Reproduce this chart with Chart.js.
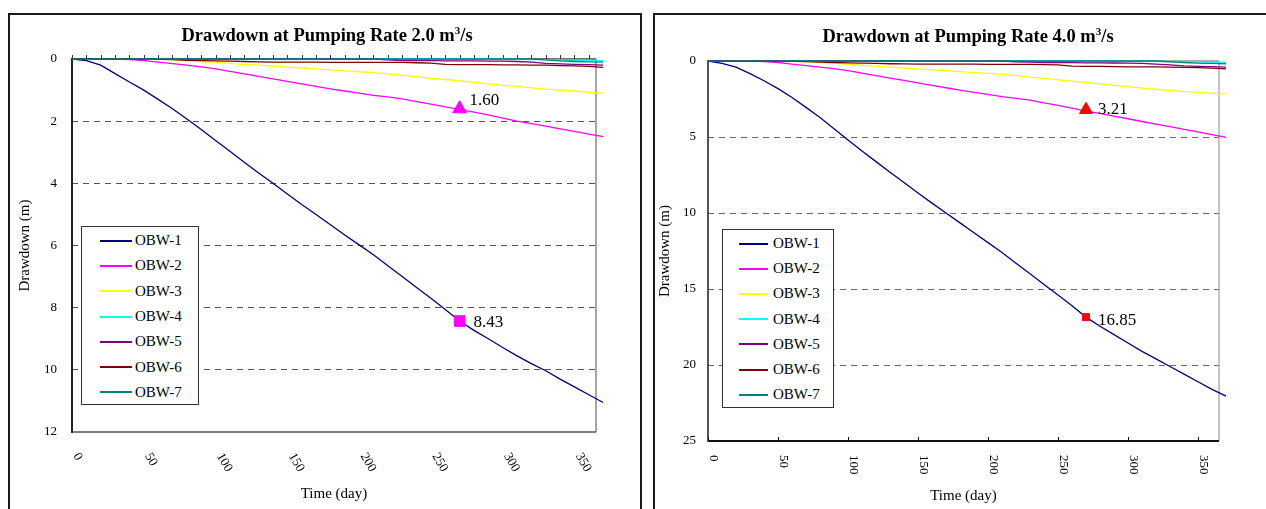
<!DOCTYPE html>
<html>
<head>
<meta charset="utf-8">
<script src="https://cdn.jsdelivr.net/npm/chart.js@4.4.0/dist/chart.umd.min.js"></script>
<style>
  body { margin: 0; width: 1266px; height: 509px; overflow: hidden; background: #fff; position: relative;
         font-family: 'Liberation Serif', 'Times New Roman', serif; color: #000; }
  .frame { position: absolute; border: 2px solid #1a1a1a; border-bottom: none; box-sizing: border-box; }
  canvas { position: absolute; }
  .title { position: absolute; font-weight: bold; font-size: 18.5px; line-height: 20px; text-align: center; white-space: nowrap; }
  .title sup { font-size: 11px; vertical-align: baseline; position: relative; top: -7px; }
  .legend { position: absolute; border: 1px solid #333; background: #fff; box-sizing: border-box; font-size: 15px; }
  .legend .item { display: flex; align-items: center; white-space: nowrap; }
  .legend .swatch { display: inline-block; height: 2px; }
</style>
</head>
<body>
<div class="frame" style="left:8px;top:13px;width:634px;height:500px"></div>
<div class="frame" style="left:653px;top:13px;width:620px;height:500px"></div>
<canvas id="c1" width="628" height="494" style="left:10px;top:15px"></canvas>
<canvas id="c2" width="610" height="494" style="left:656px;top:15px"></canvas>
<div class="title" style="left:127px;top:25px;width:400px">Drawdown at Pumping Rate 2.0 m<sup>3</sup>/s</div>
<div class="title" style="left:768px;top:26px;width:400px">Drawdown at Pumping Rate 4.0 m<sup>3</sup>/s</div>
<div class="legend" id="lg1" style="left:81px;top:226px;width:118px;height:179px"></div>
<div class="legend" id="lg2" style="left:722px;top:229px;width:112px;height:179px"></div>

<script>
// time axis (days)
const days = [0, 10, 20, 30, 40, 50, 60, 70, 80, 90, 100, 110, 120, 130, 140, 150, 160, 170, 180,
              190, 200, 210, 220, 230, 240, 250, 260, 270, 280, 290, 300, 310, 320, 330, 340, 350, 360, 370];

const wellNames = ['OBW-1', 'OBW-2', 'OBW-3', 'OBW-4', 'OBW-5', 'OBW-6', 'OBW-7'];
const wellColors = ['#000080', '#ff00ff', '#ffff00', '#00ffff', '#800080', '#800000', '#008080'];

const xTickValues = [0, 50, 100, 150, 200, 250, 300, 350];
const q2Ticks = [0, 2, 4, 6, 8, 10, 12];
const q4Ticks = [0, 5, 10, 15, 20, 25];

// pumping rate 2.0 m3/s
const q2Obw1 = [0, 0.05, 0.2, 0.47, 0.74, 1.0, 1.3, 1.6, 1.93, 2.27, 2.62, 2.97, 3.32, 3.67, 4.0, 4.34, 4.68, 5.0, 5.33,
                5.66, 5.98, 6.3, 6.65, 7.0, 7.35, 7.7, 8.06, 8.43, 8.73, 9.0, 9.28, 9.55, 9.8, 10.03, 10.3, 10.55, 10.8, 11.05];
const q2Obw2 = [0, 0, 0, 0, 0.02, 0.05, 0.1, 0.15, 0.2, 0.25, 0.32, 0.4, 0.48, 0.56, 0.64, 0.72, 0.8, 0.88, 0.96,
                1.03, 1.1, 1.17, 1.22, 1.28, 1.37, 1.45, 1.54, 1.62, 1.71, 1.8, 1.9, 2.0, 2.08, 2.16, 2.25, 2.33, 2.42, 2.5];
const q2Obw3 = [0, 0, 0, 0, 0, 0, 0, 0.02, 0.05, 0.08, 0.11, 0.14, 0.17, 0.2, 0.23, 0.26, 0.29, 0.32, 0.35,
                0.38, 0.41, 0.44, 0.48, 0.53, 0.57, 0.62, 0.66, 0.7, 0.75, 0.8, 0.85, 0.89, 0.93, 0.97, 1.0, 1.03, 1.07, 1.1];
const q2Obw4 = [0, 0, 0, 0, 0, 0, 0, 0, 0, 0, 0, 0, 0, 0, 0, 0, 0, 0, 0,
                0, 0, 0, 0, 0, 0, 0, 0, 0, 0, 0, 0, 0.01, 0.02, 0.02, 0.03, 0.04, 0.04, 0.05];
const q2Obw5 = [0, 0, 0, 0, 0, 0, 0, 0, 0, 0, 0, 0, 0, 0, 0, 0, 0, 0, 0,
                0, 0, 0, 0.03, 0.05, 0.05, 0.05, 0.06, 0.06, 0.06, 0.07, 0.07, 0.08, 0.1, 0.14, 0.16, 0.17, 0.18, 0.2];
const q2Obw6 = [0, 0, 0, 0, 0, 0, 0.01, 0.02, 0.04, 0.05, 0.06, 0.07, 0.08, 0.09, 0.1, 0.1, 0.1, 0.1, 0.11,
                0.11, 0.11, 0.11, 0.11, 0.11, 0.12, 0.13, 0.17, 0.18, 0.18, 0.18, 0.19, 0.19, 0.2, 0.2, 0.21, 0.22, 0.24, 0.27];
const q2Obw7 = [0, 0, 0, 0, 0, 0, 0, 0, 0, 0, 0, 0, 0, 0, 0, 0, 0, 0, 0,
                0, 0, 0, 0, 0, 0, 0, 0, 0, 0, 0, 0, 0, 0, 0.03, 0.06, 0.08, 0.09, 0.1];

// pumping rate 4.0 m3/s
const q4Obw1 = [0, 0.15, 0.4, 0.83, 1.3, 1.82, 2.4, 3.05, 3.72, 4.45, 5.2, 5.92, 6.62, 7.32, 8.0, 8.68, 9.35, 10.0, 10.65,
                11.3, 11.95, 12.6, 13.3, 14.0, 14.7, 15.4, 16.1, 16.85, 17.45, 18.0, 18.55, 19.1, 19.6, 20.1, 20.6, 21.1, 21.6, 22.05];
const q4Obw2 = [0, 0, 0, 0, 0.04, 0.1, 0.2, 0.3, 0.4, 0.5, 0.64, 0.8, 0.96, 1.12, 1.28, 1.44, 1.6, 1.76, 1.92,
                2.06, 2.2, 2.34, 2.46, 2.58, 2.75, 2.92, 3.1, 3.3, 3.45, 3.62, 3.8, 3.98, 4.15, 4.32, 4.5, 4.66, 4.84, 5.02];
const q4Obw3 = [0, 0, 0, 0, 0, 0, 0, 0.04, 0.1, 0.16, 0.22, 0.28, 0.34, 0.4, 0.46, 0.52, 0.58, 0.64, 0.7,
                0.76, 0.82, 0.88, 0.96, 1.06, 1.14, 1.24, 1.32, 1.4, 1.5, 1.6, 1.7, 1.78, 1.86, 1.94, 2.0, 2.06, 2.12, 2.18];
const q4Obw4 = [0, 0, 0, 0, 0, 0, 0, 0, 0, 0, 0, 0, 0, 0, 0, 0, 0, 0, 0,
                0, 0, 0, 0, 0, 0, 0, 0, 0, 0, 0, 0, 0.02, 0.03, 0.04, 0.05, 0.06, 0.07, 0.08];
const q4Obw5 = [0, 0, 0, 0, 0, 0, 0, 0, 0, 0, 0, 0, 0, 0, 0, 0, 0, 0, 0,
                0, 0, 0, 0.05, 0.08, 0.1, 0.1, 0.11, 0.12, 0.12, 0.13, 0.14, 0.16, 0.2, 0.26, 0.32, 0.35, 0.37, 0.4];
const q4Obw6 = [0, 0, 0, 0, 0, 0, 0.02, 0.04, 0.07, 0.1, 0.12, 0.14, 0.16, 0.18, 0.19, 0.2, 0.2, 0.2, 0.21,
                0.21, 0.22, 0.22, 0.22, 0.22, 0.24, 0.26, 0.34, 0.36, 0.36, 0.37, 0.38, 0.38, 0.39, 0.4, 0.42, 0.44, 0.47, 0.52];
const q4Obw7 = [0, 0, 0, 0, 0, 0, 0, 0, 0, 0, 0, 0, 0, 0, 0, 0, 0, 0, 0,
                0, 0, 0, 0, 0, 0, 0, 0, 0, 0, 0, 0, 0, 0, 0.06, 0.1, 0.14, 0.16, 0.18];

// marked points
const markerDay = [270];
const q2TriangleValue = [1.60];
const q2SquareValue = [8.43];
const q4TriangleValue = [3.21];
const q4SquareValue = [16.85];

Chart.defaults.font.family = "'Liberation Serif', 'Times New Roman', serif";
Chart.defaults.color = '#000';

// axis frame, tick marks, rotated day labels and marker values
const framePlugin = {
  id: 'frame',
  beforeDatasetsDraw(chart, args, o) {
    const { ctx, chartArea: a, scales: { x } } = chart;
    const line = (x1, y1, x2, y2, c, w) => {
      ctx.beginPath(); ctx.strokeStyle = c; ctx.lineWidth = w;
      ctx.moveTo(x1, y1); ctx.lineTo(x2, y2); ctx.stroke();
    };
    ctx.save();
    line(a.left, a.top, a.right, a.top, o.top[0], o.top[1]);
    line(a.right, a.top, a.right, a.bottom, o.right[0], o.right[1]);
    line(a.left, a.bottom, a.right, a.bottom, o.bottom[0], o.bottom[1]);
    line(a.left, a.top - 1, a.left, a.bottom + 1, o.left[0], o.left[1]);
    if (o.topTicks) {
      for (let d = 0; d <= x.max; d += o.topTicks) {
        const px = Math.round(x.getPixelForValue(d)) + 0.5;
        line(px, a.top, px, a.top - 4, '#333', 1);
      }
    }
    if (o.innerTicks) {
      x.ticks.forEach(t => {
        const px = Math.round(x.getPixelForValue(t.value)) + 0.5;
        line(px, a.bottom, px, a.bottom - 4, '#111', 1);
      });
    }
    ctx.restore();
  },
  afterDatasetsDraw(chart, args, o) {
    const { ctx, chartArea: a, scales: { x } } = chart;
    ctx.save();
    ctx.fillStyle = '#000';
    ctx.textAlign = 'left';
    ctx.textBaseline = 'middle';
    ctx.font = o.labelFont;
    x.ticks.forEach(t => {
      ctx.save();
      ctx.translate(x.getPixelForValue(t.value) + o.labelDx, a.bottom + o.labelDy);
      ctx.rotate(o.labelAngle * Math.PI / 180);
      ctx.fillText(String(t.value), 0, 0);
      ctx.restore();
    });
    ctx.font = o.markFont;
    chart.data.datasets.forEach((ds, i) => {
      if (!ds.markDx) return;
      chart.getDatasetMeta(i).data.forEach((p, j) => {
        ctx.fillText(ds.data[j].y.toFixed(2), p.x + ds.markDx, p.y + ds.markDy);
      });
    });
    ctx.restore();
  }
};

function points(vals) {
  return days.map((d, i) => ({ x: d, y: vals[i] }));
}

function markerPoints(vals) {
  return markerDay.map((d, i) => ({ x: d, y: vals[i] }));
}

function makeChart(id, s) {
  const datasets = s.series.map((vals, i) => ({
    label: wellNames[i],
    data: points(vals),
    borderColor: wellColors[i],
    borderWidth: 1.3,
    pointRadius: 0,
    tension: 0,
    clip: 12,
    order: 8 - i
  }));
  datasets.push({
    label: 'tri', data: markerPoints(s.triangle), showLine: false, order: 0,
    pointStyle: 'triangle', pointRadius: s.triRadius, backgroundColor: s.markColor, borderColor: s.markColor,
    markDx: s.triDx, markDy: s.triDy
  });
  datasets.push({
    label: 'sq', data: markerPoints(s.square), showLine: false, order: 0,
    pointStyle: 'rect', pointRadius: s.sqRadius, backgroundColor: s.markColor, borderColor: s.markColor,
    markDx: s.sqDx, markDy: s.sqDy
  });

  const yTicks = s.yTicks;
  const yMax = yTicks[yTicks.length - 1];

  return new Chart(document.getElementById(id), {
    type: 'line',
    data: { datasets },
    plugins: [framePlugin],
    options: {
      responsive: false,
      animation: false,
      events: [],
      layout: { padding: s.padding },
      plugins: {
        legend: { display: false },
        tooltip: { enabled: false },
        frame: s.frame
      },
      scales: {
        x: {
          type: 'linear', min: 0, max: 365,
          afterBuildTicks: sc => { sc.ticks = xTickValues.map(v => ({ value: v })); },
          afterFit: sc => { sc.height = s.xHeight; },
          ticks: { display: false },
          grid: { display: false },
          border: { display: false },
          title: { display: true, text: 'Time (day)', font: { size: 15 }, color: '#000',
                   padding: { top: 0, bottom: s.xTitlePad } }
        },
        y: {
          type: 'linear', reverse: true, min: 0, max: yMax,
          afterBuildTicks: sc => { sc.ticks = yTicks.map(v => ({ value: v })); },
          afterFit: sc => { sc.width = s.yWidth; },
          ticks: { font: { size: 13 }, color: '#000', padding: s.yTickPad },
          grid: {
            drawTicks: false,
            lineWidth: 1,
            color: c => (c.tick && (c.tick.value === 0 || c.tick.value === yMax)) ? 'rgba(0,0,0,0)' : s.gridColor
          },
          border: { display: false, dash: [6, 5] },
          title: { display: true, text: 'Drawdown (m)', font: { size: 15 }, color: '#000',
                   padding: { top: s.yTitlePad, bottom: 0 } }
        }
      }
    }
  });
}

makeChart('c1', {
  series: [q2Obw1, q2Obw2, q2Obw3, q2Obw4, q2Obw5, q2Obw6, q2Obw7],
  triangle: q2TriangleValue, square: q2SquareValue,
  markColor: '#ff00ff', triRadius: 8, sqRadius: 7.5,
  triDx: 10, triDy: -8, sqDx: 14, sqDy: 1,
  yTicks: q2Ticks,
  padding: { top: 44, right: 42, bottom: 0, left: 0 },
  xHeight: 77, yWidth: 62, yTickPad: 15, xTitlePad: 6, yTitlePad: 6,
  gridColor: '#555',
  frame: {
    top: ['#444', 1.5], right: ['#a6a6a6', 2], bottom: ['#555', 1.5], left: ['#222', 2],
    topTicks: 10, innerTicks: false,
    labelFont: "13px 'Liberation Serif'", labelAngle: 60, labelDx: 4, labelDy: 22,
    markFont: "17px 'Liberation Serif'"
  }
});

makeChart('c2', {
  series: [q4Obw1, q4Obw2, q4Obw3, q4Obw4, q4Obw5, q4Obw6, q4Obw7],
  triangle: q4TriangleValue, square: q4SquareValue,
  markColor: '#ff0000', triRadius: 7.5, sqRadius: 5,
  triDx: 12, triDy: 0, sqDx: 12, sqDy: 3,
  yTicks: q4Ticks,
  padding: { top: 46, right: 47, bottom: 0, left: 0 },
  xHeight: 68, yWidth: 52, yTickPad: 12, xTitlePad: 4, yTitlePad: 0,
  gridColor: '#6a6a6a',
  frame: {
    top: ['#555', 1], right: ['#888', 1], bottom: ['#111', 2], left: ['#555', 2],
    topTicks: 0, innerTicks: true,
    labelFont: "13px 'Liberation Serif'", labelAngle: 90, labelDx: 5, labelDy: 14,
    markFont: "17px 'Liberation Serif'"
  }
});

// legends inside the plot areas
function buildLegend(id, o) {
  const box = document.getElementById(id);
  box.style.paddingTop = o.padTop + 'px';
  wellNames.forEach((name, i) => {
    const item = document.createElement('div');
    item.className = 'item';
    item.style.height = o.step + 'px';
    const sw = document.createElement('span');
    sw.className = 'swatch';
    sw.style.background = wellColors[i];
    sw.style.width = o.swatch + 'px';
    sw.style.marginLeft = o.indent + 'px';
    sw.style.marginRight = o.gap + 'px';
    item.appendChild(sw);
    item.appendChild(document.createTextNode(name));
    box.appendChild(item);
  });
}
buildLegend('lg1', { padTop: 1, step: 25.3, swatch: 32, indent: 18, gap: 3 });
buildLegend('lg2', { padTop: 1, step: 25.2, swatch: 29, indent: 16, gap: 5 });
</script>
</body>
</html>
